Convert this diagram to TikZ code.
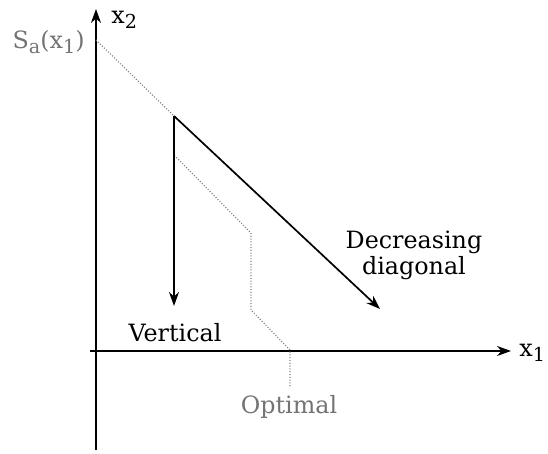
\documentclass[tikz,border=0pt]{standalone}
\usepackage{fontspec}
\setmainfont{DejaVu Serif}
\usetikzlibrary{arrows.meta}
\newcommand{\sbs}[1]{\raisebox{-0.45ex}{\fontsize{9.6}{11}\selectfont #1}}
\begin{document}
\begin{tikzpicture}[x=0.5pt,y=-0.5pt,
  lbl/.style={font=\fontsize{11.9}{14}\selectfont, inner sep=0pt},
  axis/.style={line width=0.85pt,-{Stealth[length=7pt,width=5pt]}},
  move/.style={line width=0.85pt,-{Stealth[length=7pt,width=5pt]}},
  opt/.style={gray, line width=0.6pt, dash pattern=on 0.5pt off 0.9pt}]
\useasboundingbox (0,0) rectangle (548,454);
% axes
\coordinate (ybot) at (96,450);
\coordinate (ytop) at (96,9);
\coordinate (xl) at (90,351);
\coordinate (xr) at (511,351);
\draw[axis] (ybot) -- (ytop);
\draw[axis] (xl) -- (xr);
\node[lbl, anchor=west] (x2) at (111,20) {x\sbs{2}};
\node[lbl, anchor=west] (x1) at (519,353) {x\sbs{1}};
\node[lbl, gray!90!black, anchor=east] (sa) at (85,42) {S\sbs{a}(x\sbs{1})};
% points
\coordinate (s0) at (96,40);
\coordinate (st) at (174,116);
\coordinate (vend) at (174,306);
\coordinate (dend) at (380,309);
\coordinate (o1) at (174,155);
\coordinate (o2) at (251,233);
\coordinate (o3) at (251,310);
\coordinate (o4) at (290,350);
\coordinate (o5) at (290,388);
% optimal path
\draw[opt] (s0) -- (st) -- (o1) -- (o2) -- (o3) -- (o4) -- (o5);
% moves
\draw[move] (st) -- (vend);
\draw[move] (st) -- (dend);
% labels
\node[lbl, align=center] (dd) at (414,255) {Decreasing\\[-1pt]diagonal};
\node[lbl] (vt) at (175,333) {Vertical};
\node[lbl, gray!90!black] (op) at (289,407) {Optimal};
\end{tikzpicture}
\end{document}
